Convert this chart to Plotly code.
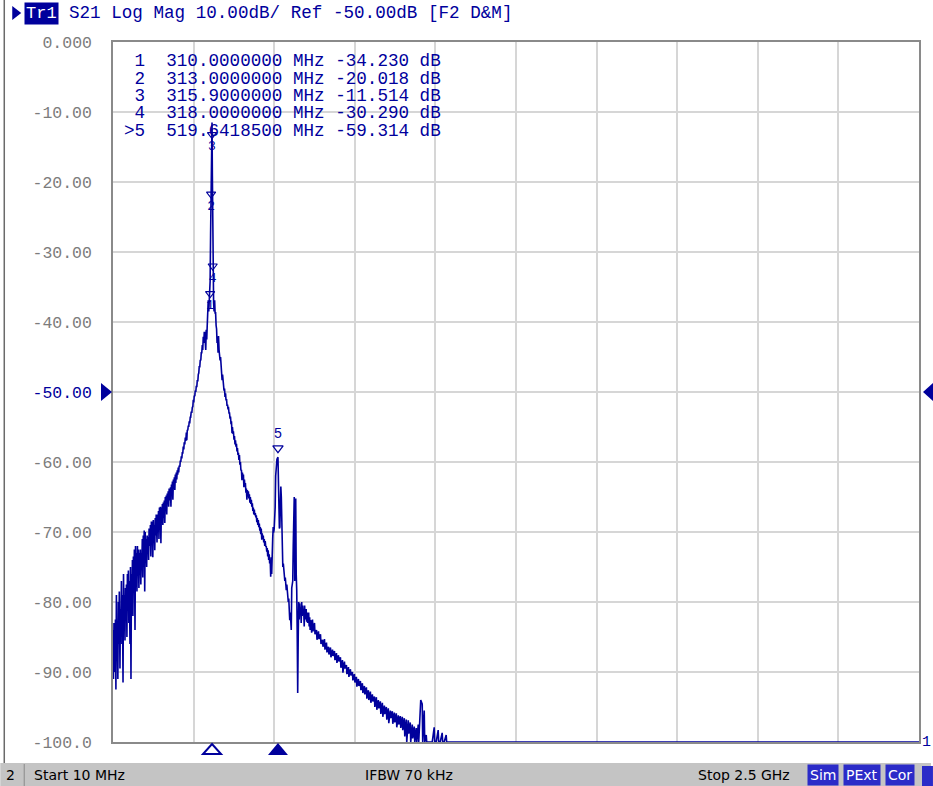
import plotly.graph_objects as go

# ---------------- data ----------------
start_mhz = 10.0
stop_mhz = 2500.0
ref_level_db = -50.0
top_db = 0.0
bottom_db = -100.0

freq_mhz = [
    10, 11.5, 13, 14.5, 16, 17.5, 19, 20.5, 22, 23.5, 25, 26.5, 28, 29.5, 31.5, 33,
    34.5, 36, 37.5, 39, 41, 42.5, 44, 45.5, 47, 48.5, 50, 51.5, 53, 54.5, 56, 57.5,
    59, 60.5, 62.5, 64, 65.5, 67, 68.5, 70, 71.5, 73, 74.5, 76, 78, 79.5, 81, 82.5,
    84, 85.5, 87, 88.5, 90, 91.5, 93, 94.5, 96, 97.5, 99, 100.5, 102, 103.5, 105, 106.5,
    108, 109.5, 111, 112.5, 114, 115.5, 117, 118.5, 120, 121.5, 124, 125.5, 127, 128.5,
    130, 131.5, 133, 134.5, 136, 137.5, 139, 140.5, 142, 143.5, 146, 147.5, 149, 150.5,
    152, 153.5, 155, 156.5, 158, 159.5, 161, 162.5, 164, 165.5, 167, 168.5, 170, 171.5,
    173, 174.5, 176, 177.5, 179, 180.5, 182, 183.5, 186, 187.5, 189, 190.5, 192, 193.5,
    195, 196.5, 198, 199.5, 201, 202.5, 204, 205.5, 207, 208.5, 210, 211.5, 213, 214.5,
    216.5, 218, 219.5, 221, 222.6, 224, 225.7, 227, 228.8, 230, 231.8, 233.3, 235, 236.5,
    238, 239.5, 241, 242.6, 244, 245.5, 247, 248.6, 250, 251.7, 253.5, 255, 256.6, 258,
    259.6, 261, 262.7, 264, 265.8, 267.3, 268.9, 270.4, 272, 273.5, 275, 276.5, 278, 279.6,
    281.2, 282.7, 284.2, 285.8, 287.3, 288.8, 290.4, 291.9, 293.5, 295, 296.5, 298, 299.6, 301.1,
    302.7, 304.2, 305.8, 307.3, 308.5, 310, 311.5, 313, 314.5, 315.9, 317, 318, 319.5, 320.8,
    322.3, 324, 325.4, 327, 328.5, 330, 331.5, 333, 334.6, 336, 337.7, 339, 340.8, 342.3,
    343.8, 345.4, 347, 348.5, 350, 351.5, 353, 354.6, 356, 357.7, 359.2, 360.8, 362.3, 363.8,
    365.4, 366.6, 368.4, 370, 371.5, 373, 374.6, 376, 377.7, 379, 380.8, 382, 383.8, 385.3,
    386.9, 388.4, 389.9, 391.4, 393, 394.5, 396, 397.5, 399, 400.6, 402, 403.7, 405.2, 406.8,
    408.3, 409.8, 411.4, 412.9, 414.4, 416, 417.5, 419, 420.6, 422, 423.7, 425, 426.7, 428.2,
    429.7, 431.3, 432.8, 434.3, 435.9, 437.4, 438.9, 440.5, 442, 443.5, 445, 446.6, 448, 449.7,
    451.2, 452.7, 454.3, 455.8, 457.3, 458.9, 460.4, 462, 463.5, 465, 466.5, 468, 469.6, 471,
    472.7, 474.2, 475.7, 477.3, 478.8, 480.3, 481.9, 483.4, 485, 486.5, 488, 489.5, 491, 492.6,
    494, 495.7, 497.2, 498.7, 500.2, 501.8, 503.3, 504.9, 506.4, 508, 509.5, 511, 512.5, 514,
    516.5, 519.64, 521, 522.5, 524, 525.5, 527, 528.5, 530, 531.5, 533, 534.6, 536.2, 537.7,
    539, 540.8, 542.3, 543.8, 545.3, 547, 548.4, 550, 551.5, 553, 554.5, 556, 557.6, 559,
    560.7, 562.2, 563.8, 565.3, 566.8, 568.4, 569.9, 571.5, 573, 574.5, 576, 577.6, 579, 580.6,
    582.2, 583.7, 585.3, 586.8, 588.3, 590, 591.4, 593, 594.5, 596, 597.5, 599, 600.7, 602,
    603.7, 605.2, 606.8, 608.3, 609.9, 611.4, 613, 614.5, 616, 617.6, 619, 620.7, 622.2, 623.7,
    626.3, 627.8, 632.5, 634, 638.7, 640.2, 644.8, 646.3, 651, 652.5, 657.2, 658.7, 663.3, 664.8,
    669.5, 671, 675.6, 677.1, 681.8, 683.3, 688, 689.5, 694.1, 695.6, 700.3, 701.8, 706.5, 708,
    712.6, 714.1, 718.8, 720.3, 725, 726.5, 731.1, 732.6, 737.3, 738.8, 743.4, 744.9, 749.6, 751.1,
    755.8, 757.3, 761.9, 763.4, 768.1, 769.6, 774.3, 775.8, 780.4, 781.9, 786.6, 788.1, 792.8, 794.3,
    798.9, 800.4, 805.1, 806.6, 811.2, 812.7, 817.4, 818.9, 823.6, 825.1, 829.7, 831.2, 835.9, 837.4,
    842.1, 843.6, 848.2, 849.7, 854.4, 855.9, 860.5, 862, 866.7, 868.2, 872.9, 874.4, 879, 880.5,
    885.2, 886.7, 891.4, 892.9, 897.5, 899, 903.7, 905.2, 909.9, 911.4, 916, 917.5, 922.2, 923.7,
    928.3, 929.8, 934.5, 936, 940.7, 942.2, 946.8, 948.3, 953, 954.5, 959.2, 960.7, 965.3, 966.8,
    971.5, 973, 977.7, 979.2, 983.8, 990, 996.2, 1002.3, 1003.8, 1008.5, 1014.6, 1016.1, 1020.8, 1027,
    1028.5, 1033.1, 1039.3, 1040.8, 1045.5, 1200, 1500, 1800, 2100, 2500,
]

s21_db = [
    -84, -91, -83, -88, -90, -82.5, -92.5, -79, -88, -84, -91, -80, -86, -78.5, -89.5, -81,
    -84, -77, -86, -79, -91.5, -76, -83, -79, -85.5, -78, -82, -77.5, -85, -76, -80, -75.5,
    -83, -77, -86, -75, -91, -76, -80, -74, -82, -73.5, -78, -72.5, -84, -72, -77, -73,
    -78.5, -72, -76, -72.5, -78, -73, -75, -72.5, -77.5, -73, -75, -71, -76.5, -70.5, -73, -69.8,
    -78.5, -70, -74, -71, -75, -70.5, -73, -70.7, -74, -69.5, -72, -69, -73.5, -68.5,
    -71, -68.5, -73.6, -68.3, -71, -69, -72.6, -68, -70.5, -67.5, -71.5, -67.5, -69.5, -67,
    -71, -66.5, -69, -66.4, -71.6, -66.5, -68.5, -66, -69, -65.8, -68, -65.5, -68.7, -65,
    -67, -64.8, -67.5, -64.5, -66, -64.2, -66.4, -63.8, -65.5, -63.6, -66.4, -63.2, -64.5, -62.8,
    -65.4, -62.5, -63.5, -62.2, -64, -61.8, -63, -61.5, -62.5, -61.2, -61.8, -60.8, -61.5, -60.5,
    -60.7, -59.8, -60, -59.2, -59.5, -58.7, -58.7, -57.8, -58.2, -57.2, -57.5, -56.5, -57, -55.8,
    -56.9, -55.4, -55.5, -54.8, -55, -54.2, -54.5, -53.6, -53.6, -52.8, -53, -52.2, -52.1, -51.1,
    -51.5, -50.5, -50.6, -49.8, -50, -49.1, -49.3, -48.3, -48.5, -47.5, -47.3, -46.3, -46.5, -45.4,
    -45.5, -44.4, -44.4, -43.3, -44, -42.1, -43, -41.5, -41.5, -42.8, -44, -41.1, -42.5, -40.5,
    -39.3, -36.9, -38.5, -37.5, -36.5, -34.23, -27.5, -20.018, -14.5, -11.514, -19, -30.29, -35, -37.2,
    -38.5, -36.9, -38.7, -38.7, -40.5, -41, -43, -42.5, -44.4, -42, -44, -44.5, -45.5, -45,
    -47, -46.3, -48.3, -47.5, -48.7, -48.7, -49.8, -49.5, -50.7, -50.2, -51.2, -51, -52, -51.8,
    -52.5, -52.1, -53, -53, -53.8, -53.5, -54.6, -54.2, -55.9, -55, -56, -55.6, -56.8, -56.3,
    -57.5, -56.9, -57.8, -57.4, -58.5, -58, -59, -58.7, -59.7, -59, -60.4, -60, -61.2, -61.1,
    -62.6, -61.5, -62.2, -61.8, -63.6, -62.5, -63.5, -63, -64.4, -63.8, -65.4, -64, -64.9, -64.2,
    -65.2, -64.6, -65.8, -65, -66, -65.4, -66.4, -65.9, -67, -66.5, -67.5, -66.8, -67.6, -67.3,
    -67.9, -67.6, -68.6, -68, -69, -68.3, -69.3, -68.8, -69.8, -69.3, -70.3, -69.5, -71.1, -70.2,
    -71, -70.5, -71.5, -71, -72, -71.3, -72.1, -72, -72.8, -72.3, -73.5, -72.6, -74, -73.2,
    -74.5, -74, -76.4, -73.6, -76, -74.5, -71, -69.3, -70.1, -69.5, -68, -66.5, -62, -60.5,
    -59.6, -59.314, -61.5, -66, -69.5, -69.3, -66, -63.5, -65, -70.5, -72.5, -75, -74.5, -76,
    -75.5, -77, -76.5, -77.8, -78.3, -77.5, -79, -78.5, -80, -79.5, -80.7, -82.6, -81.5, -83,
    -84, -78, -77.5, -77, -72, -66, -65, -77, -66, -65.2, -76, -78.3, -84, -93,
    -85, -80, -82.5, -80.2, -81.5, -80.8, -83, -80, -82, -80.5, -81.5, -81, -83.5, -80.5,
    -82.5, -81.2, -81, -82.8, -81.5, -83, -82, -81.5, -83.5, -82.2, -84, -82.6, -83, -84.4,
    -82.5, -84.2, -83, -84.6, -84, -85.4, -84.2, -85.3, -84.6, -86, -85.4, -86.4, -85.3, -86.8,
    -85.8, -87.2, -86.4, -87.5, -86.5, -87.9, -86.8, -87.7, -87, -88.3, -87.3, -88.7, -87.6, -88.5,
    -87.9, -89.4, -88.3, -90.1, -88.5, -89.5, -89, -90.3, -89.3, -90.7, -89.6, -90.5, -90, -91.2,
    -90.3, -91.5, -90.7, -92.1, -91, -92, -91.3, -92.6, -91.6, -93, -92, -93.2, -92.2, -93.8,
    -92.6, -94, -92.8, -94.4, -93.2, -94.2, -93.5, -95, -93.6, -95.4, -94, -95.2, -94.2, -96,
    -94.4, -96.4, -94.8, -96, -95, -96.8, -95.2, -97.3, -95.5, -96.6, -95.6, -97.4, -95.8, -97.2,
    -95.9, -97.9, -96.2, -97.5, -96.3, -98, -96.4, -98.3, -96.6, -99.2, -96.8, -100, -96.9, -98.8,
    -97.2, -100, -97.5, -99.5, -97.8, -100, -98, -100, -97.5, -100, -94.5, -94, -94.6, -100,
    -95.5, -100, -99, -100, -100, -100, -100, -97.9, -100, -100, -98.3, -100, -100, -98.7,
    -100, -100, -99, -100, -100, -100, -100, -100, -100, -100,
]

marker_ids = ["1", "2", "3", "4", "5"]
marker_freq_mhz = [310.0, 313.0, 315.9, 318.0, 519.64185]
marker_freq_text = ["310.0000000", "313.0000000", "315.9000000", "318.0000000", "519.6418500"]
marker_db = [-34.230, -20.018, -11.514, -30.290, -59.314]
active_marker = "5"

y_tick_vals = [0, -10, -20, -30, -40, -50, -60, -70, -80, -90, -100]
y_tick_labels = ["0.000", "-10.00", "-20.00", "-30.00", "-40.00", "-50.00",
                 "-60.00", "-70.00", "-80.00", "-90.00", "-100.0"]

header_trace = "Tr1"
header_text = "S21 Log Mag 10.00dB/ Ref -50.00dB [F2 D&M]"
status_start = "Start 10 MHz"
status_ifbw = "IFBW 70 kHz"
status_stop = "Stop 2.5 GHz"
status_flags = ["Sim", "PExt", "Cor"]
channel_no = "2"
trace_no = "1"

# ---------------- styling ----------------
W, H = 933, 786
L, R, T, B = 113, 12, 42, 44
PW, PH = W - L - R, H - T - B
NAVY = "#00009C"
GRID = "#d6d6d6"
FRAME = "#8a8a8a"
LABEL_GREY = "#7c7c7c"
FLAG_BLUE = "#2b2bc8"
MONO = "Liberation Mono, DejaVu Sans Mono, monospace"
SANS = "DejaVu Sans, Liberation Sans, sans-serif"


def px_x(px):
    return (px - L) / PW


def px_y(py):
    return 1 - (py - T) / PH


db_per_px = (top_db - bottom_db) / PH

fig = go.Figure()

# measured trace
fig.add_trace(go.Scatter(
    x=freq_mhz, y=s21_db, mode="lines",
    line=dict(color=NAVY, width=1.6), hoverinfo="skip", showlegend=False,
))

# marker symbols on the trace: the active marker sits above its point,
# the crowded peak markers are drawn just below their points
inactive = [i for i, m in enumerate(marker_ids) if m != active_marker]
active = [i for i, m in enumerate(marker_ids) if m == active_marker]
fig.add_trace(go.Scatter(
    x=[marker_freq_mhz[i] for i in inactive],
    y=[marker_db[i] - 12 * db_per_px for i in inactive],
    mode="markers+text",
    marker=dict(symbol="triangle-down-open", size=8, color=NAVY, line=dict(width=1.1, color=NAVY)),
    text=[marker_ids[i] for i in inactive], textposition="bottom center",
    textfont=dict(family=MONO, size=13, color=NAVY),
    hoverinfo="skip", showlegend=False, cliponaxis=False,
))
fig.add_trace(go.Scatter(
    x=[marker_freq_mhz[i] for i in active],
    y=[marker_db[i] + 9 * db_per_px for i in active],
    mode="markers+text",
    marker=dict(symbol="triangle-down-open", size=9, color=NAVY, line=dict(width=1.2, color=NAVY)),
    text=[marker_ids[i] for i in active], textposition="top center",
    textfont=dict(family=MONO, size=14, color=NAVY),
    hoverinfo="skip", showlegend=False, cliponaxis=False,
))

tick_text = [
    f'<span style="color:{NAVY}">{t}</span>' if v == ref_level_db else t
    for v, t in zip(y_tick_vals, y_tick_labels)
]

fig.update_layout(
    width=W, height=H,
    margin=dict(l=L, r=R, t=T, b=B, pad=0),
    paper_bgcolor="white", plot_bgcolor="white",
    showlegend=False,
    xaxis=dict(
        range=[start_mhz, stop_mhz], tick0=start_mhz, dtick=(stop_mhz - start_mhz) / 10,
        showticklabels=False, ticks="", showgrid=True, gridcolor=GRID, gridwidth=2,
        zeroline=False, showline=True, linecolor=FRAME, linewidth=1.5, mirror=True,
        fixedrange=True,
    ),
    yaxis=dict(
        range=[bottom_db, top_db], tickvals=y_tick_vals, ticktext=tick_text,
        tickfont=dict(family=MONO, size=16.5, color=LABEL_GREY),
        ticklabelstandoff=16, ticks="",
        showgrid=True, gridcolor=GRID, gridwidth=2,
        zeroline=False, showline=True, linecolor=FRAME, linewidth=1.5, mirror=True,
        fixedrange=True,
    ),
)

ann = []
# marker table
for i, (mid, ftxt, v) in enumerate(zip(marker_ids, marker_freq_text, marker_db)):
    prefix = ">" if mid == active_marker else " "
    line = f"{prefix}{mid}  {ftxt} MHz {v:.3f} dB"
    ann.append(dict(
        x=px_x(122), y=px_y(61 + 17.5 * i), xref="paper", yref="paper",
        text=line.replace(" ", "&nbsp;"), showarrow=False, xanchor="left", yanchor="middle",
        font=dict(family=MONO, size=17.6, color=NAVY),
    ))

# header line
ann.append(dict(x=px_x(24), y=px_y(13), xref="paper", yref="paper", text=header_trace,
                showarrow=False, xanchor="left", yanchor="middle", bgcolor=NAVY, borderpad=1,
                font=dict(family=MONO, size=17, color="white")))
ann.append(dict(x=px_x(67), y=px_y(13), xref="paper", yref="paper",
                text=header_text.replace(" ", "&nbsp;"),
                showarrow=False, xanchor="left", yanchor="middle",
                font=dict(family=MONO, size=17.6, color=NAVY)))

# trace number at right end of the trace
ann.append(dict(x=1, y=bottom_db, xref="paper", yref="y", text=trace_no, xshift=1,
                showarrow=False, xanchor="left", yanchor="middle",
                font=dict(family=MONO, size=15, color=NAVY)))

# status bar
sb_y = px_y(775)
for tx, txt in [(4, channel_no), (32, status_start), (364, status_ifbw), (697, status_stop)]:
    ann.append(dict(x=px_x(tx), y=sb_y, xref="paper", yref="paper", text=txt,
                    showarrow=False, xanchor="left", yanchor="middle",
                    font=dict(family=SANS, size=14, color="black")))
for fx, ftxt in zip([809, 845, 887], status_flags):
    ann.append(dict(x=px_x(fx), y=sb_y, xref="paper", yref="paper", text=ftxt,
                    showarrow=False, xanchor="left", yanchor="middle",
                    bgcolor=FLAG_BLUE, borderpad=2,
                    font=dict(family=SANS, size=14, color="white")))
fig.update_layout(annotations=ann)

shapes = [
    # status bar background
    dict(type="rect", xref="paper", yref="paper", x0=px_x(0), x1=px_x(W), y0=px_y(763), y1=px_y(H),
         fillcolor="#c4c4c4", line=dict(width=0), layer="below"),
    dict(type="line", xref="paper", yref="paper", x0=px_x(24), x1=px_x(24), y0=px_y(764), y1=px_y(H),
         line=dict(color="#8a8a8a", width=1)),
    dict(type="rect", xref="paper", yref="paper", x0=px_x(924), x1=px_x(W + 2), y0=px_y(766), y1=px_y(H),
         fillcolor=FLAG_BLUE, line=dict(width=0)),
    # left window frame line
    dict(type="line", xref="paper", yref="paper", x0=px_x(4), x1=px_x(4), y0=px_y(0), y1=px_y(763),
         line=dict(color="#6a6a6a", width=1.5)),
    # header trace arrow
    dict(type="path", xref="paper", yref="paper", xsizemode="pixel", ysizemode="pixel",
         xanchor=px_x(12), yanchor=px_y(13), path="M0,-7 L0,7 L9,0 Z",
         fillcolor=NAVY, line=dict(width=0)),
    # reference level arrows (left and right of the grid)
    dict(type="path", xref="paper", yref="y", xsizemode="pixel", ysizemode="pixel",
         xanchor=0, yanchor=ref_level_db, path="M-12,-9 L-12,9 L-1,0 Z",
         fillcolor=NAVY, line=dict(width=0)),
    dict(type="path", xref="paper", yref="y", xsizemode="pixel", ysizemode="pixel",
         xanchor=1, yanchor=ref_level_db, path="M14,-9 L14,9 L4,0 Z",
         fillcolor=NAVY, line=dict(width=0)),
]
# stimulus markers under the grid: one open triangle for the peak markers, filled for the active one
peak_center = marker_freq_mhz[inactive[len(inactive) // 2]]
shapes.append(dict(
    type="path", xref="x", yref="paper", xsizemode="pixel", ysizemode="pixel",
    xanchor=peak_center, yanchor=0, path="M-9,-12 L9,-12 L0,-2 Z",
    fillcolor="white", line=dict(color=NAVY, width=2),
))
for i in active:
    shapes.append(dict(
        type="path", xref="x", yref="paper", xsizemode="pixel", ysizemode="pixel",
        xanchor=marker_freq_mhz[i], yanchor=0, path="M-10,-13 L10,-13 L0,-1 Z",
        fillcolor=NAVY, line=dict(width=0),
    ))
fig.update_layout(shapes=shapes)

fig.write_html(
    "out.html",
    config={"displayModeBar": False},
    post_script="document.body.style.margin='0px';document.body.style.overflow='hidden';",
)
